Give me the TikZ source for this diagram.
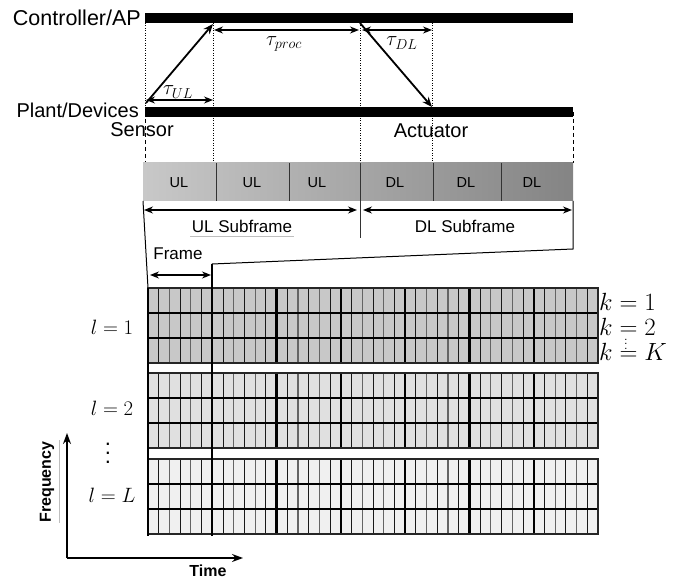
\documentclass[tikz,border=0pt]{standalone}
\usepackage{fontspec}
\setmainfont{Liberation Sans}
\usetikzlibrary{arrows.meta}
\definecolor{barL}{RGB}{200,200,200}
\definecolor{barR}{RGB}{132,132,132}
\definecolor{blkA}{RGB}{200,200,200}
\definecolor{blkB}{RGB}{224,224,224}
\definecolor{blkC}{RGB}{240,240,240}
\definecolor{thinG}{RGB}{100,100,100}
\definecolor{ulineG}{RGB}{190,190,190}
\begin{document}
\begin{tikzpicture}[x=1pt,y=-1pt,
  lbl/.style={font=\fontsize{20}{23}\selectfont, inner sep=0pt},
  cell/.style={font=\fontsize{14.5}{17}\selectfont, inner sep=0pt},
  sub/.style={font=\fontsize{17}{20}\selectfont, inner sep=0pt},
  mth/.style={font=\fontsize{22}{26}\selectfont, inner sep=0pt},
  kmth/.style={font=\fontsize{23.5}{27}\selectfont, inner sep=0pt},
  tau/.style={font=\fontsize{19.5}{23}\selectfont, inner sep=0pt},
  axl/.style={font=\fontsize{16}{19}\selectfont\bfseries, inner sep=0pt},
  timebar/.style={line width=10pt},
  msg/.style={-{Stealth[length=10pt,width=8pt]}, line width=1.8pt},
  dur/.style={{Stealth[length=9pt,width=7pt]}-{Stealth[length=9pt,width=7pt]}, line width=1.3pt},
  dotl/.style={line width=0.8pt, dash pattern=on 0.9pt off 1.6pt},
  dashl/.style={line width=1pt, dash pattern=on 4pt off 3pt},
  axarr/.style={-{Stealth[length=11pt,width=8pt]}, line width=1.3pt},
  zoomline/.style={line width=1pt},
  major/.style={line width=2.4pt},
]
\useasboundingbox (0,0) rectangle (683,580);

% ---------- coordinates ----------
\coordinate (cL) at (145,18);  \coordinate (cR) at (573,18);
\coordinate (pL) at (145,112); \coordinate (pR) at (573,112);
\coordinate (t1) at (145,163); \coordinate (t2) at (213,163);
\coordinate (t3) at (360,163); \coordinate (t4) at (432,163);
\coordinate (t5) at (573,163);
\coordinate (c2) at (213,18); \coordinate (c3) at (360,18); \coordinate (c4) at (432,18);
\coordinate (p5) at (573,112);

% dotted guide lines
\draw[dotl] (cL) -- (pL);
\draw[dashl] (pL) -- (t1);
\draw[dotl] (c2) -- (t2);
\draw[dotl] (c3) -- (t3);
\draw[dotl] (c4) -- (t4);
\draw[dashl] (p5) -- (t5);

% time bars
\draw[timebar] (cL) -- (cR);
\draw[timebar] (pL) -- (pR);

% labels
\node[lbl, anchor=east, font=\fontsize{21.5}{24}\selectfont] (ctl) at (141,18) {Controller/AP};
\node[lbl, anchor=east] (plant) at (139,110) {Plant/Devices};
\node[lbl] (sensor) at (142,130) {Sensor};
\node[lbl] (act) at (431,131) {Actuator};

% message arrows
\coordinate (ulS) at (146,103); \coordinate (ulE) at (213,24);
\coordinate (dlS) at (360,23);  \coordinate (dlE) at (432,107);
\draw[msg] (ulS) -- (ulE);
\draw[msg] (dlS) -- (dlE);

% durations
\coordinate (tu1) at (146,100); \coordinate (tu2) at (213,100);
\coordinate (tp1) at (214,30);  \coordinate (tp2) at (359,30);
\coordinate (td1) at (362,30);  \coordinate (td2) at (432,30);
\draw[dur] (tu1) -- (tu2);
\draw[dur] (tp1) -- (tp2);
\draw[dur] (td1) -- (td2);
\node[tau] (tauul) at (178,92) {$\tau_{UL}$};
\node[tau] (tauproc) at (284,44) {$\tau_{proc}$};
\node[tau] (taudl) at (402,43) {$\tau_{DL}$};

% ---------- subframe bar ----------
\shade[left color=barL, right color=barR] (143,163) rectangle (573,201);
\foreach \xx in {216,289,433,501} \draw[line width=0.8pt, black!80] (\xx,163) -- (\xx,201);
\coordinate (sepT) at (360,163); \coordinate (sepB) at (360,238);
\draw[line width=0.8pt, black!80] (sepT) -- (sepB);
\node[cell] (u1) at (179,183) {UL};
\node[cell] (u2) at (252,183) {UL};
\node[cell] (u3) at (317,183) {UL};
\node[cell] (d1) at (395,183) {DL};
\node[cell] (d2) at (466,183) {DL};
\node[cell] (d3) at (532,183) {DL};

\coordinate (us1) at (144,210); \coordinate (us2) at (357,210);
\coordinate (ds1) at (363,210); \coordinate (ds2) at (572,210);
\draw[dur] (us1) -- (us2);
\draw[dur] (ds1) -- (ds2);
\node[sub] (uls) at (242,226) {UL Subframe};
\node[sub] (dls) at (465,226) {DL Subframe};
\draw[ulineG, line width=0.8pt] (190,236) -- (294,236);

% zoom lines
\coordinate (zL1) at (143,201); \coordinate (zL2) at (148,288);
\coordinate (zR1) at (573,201); \coordinate (zR2) at (573,249);
\coordinate (zR3) at (212,264);
\draw[zoomline] (zL1) -- (zL2);
\draw[zoomline] (zR1) -- (zR2) -- (zR3);

% frame arrow
\coordinate (f1) at (150,275); \coordinate (f2) at (211,275);
\draw[dur] (f1) -- (f2);
\node[sub] (frame) at (178,254) {Frame};

% ---------- resource grid ----------
\foreach \yt/\col in {288/blkA, 373/blkB, 459/blkC}{
  \fill[\col] (148,\yt) rectangle (598,\yt+75);
  \foreach \j in {1,...,41}{
    \pgfmathtruncatemacro{\mm}{mod(\j,6)}
    \pgfmathtruncatemacro{\oo}{mod(\j,2)}
    \pgfmathsetmacro{\xx}{148+\j*10.7142857}
    \ifnum\mm=0
      \draw[major] (\xx,\yt) -- (\xx,\yt+75);
    \else
      \ifnum\oo=1
        \draw[line width=1pt, black!90] (\xx,\yt) -- (\xx,\yt+75);
      \else
        \draw[line width=1.2pt, thinG] (\xx,\yt) -- (\xx,\yt+75);
      \fi
    \fi
  }
  \draw[line width=1.2pt] (148,\yt+25) -- (598,\yt+25);
  \draw[line width=1.2pt] (148,\yt+50) -- (598,\yt+50);
  \draw[line width=2pt, black!85] (148,\yt) rectangle (598,\yt+75);
}
\coordinate (gL1) at (148,288); \coordinate (gL2) at (148,536);
\coordinate (gF2) at (212,536);
\draw[major] (gL1) -- (gL2);
\draw[major] (zR3) -- (gF2);

% grid labels
\node[kmth, anchor=west] (k1) at (599,302) {$k=1$};
\node[kmth, anchor=west] (k2) at (599,327) {$k=2$};
\node[kmth, anchor=west] (kK) at (599,352) {$k=K$};
\node[inner sep=0pt, scale=1.1] (kd) at (626,341) {$\vdots$};

\node[mth] (l1) at (112,327) {$l=1$};
\node[mth] (l2) at (112,408) {$l=2$};
\node[inner sep=0pt, scale=2.2] (ld) at (108,447) {$\vdots$};
\node[mth] (lL) at (112,495) {$l=L$};

% ---------- axes ----------
\coordinate (o) at (67,558); \coordinate (fy) at (67,433); \coordinate (tx) at (243,558);
\draw[axarr] (o) -- (fy);
\draw[axarr] (o) -- (tx);
\node[axl, rotate=90] (freq) at (47,482) {Frequency};
\node[axl] (time) at (208,571) {Time};
\draw[ulineG, line width=0.8pt] (59,440) -- (59,523);
\end{tikzpicture}
\end{document}
